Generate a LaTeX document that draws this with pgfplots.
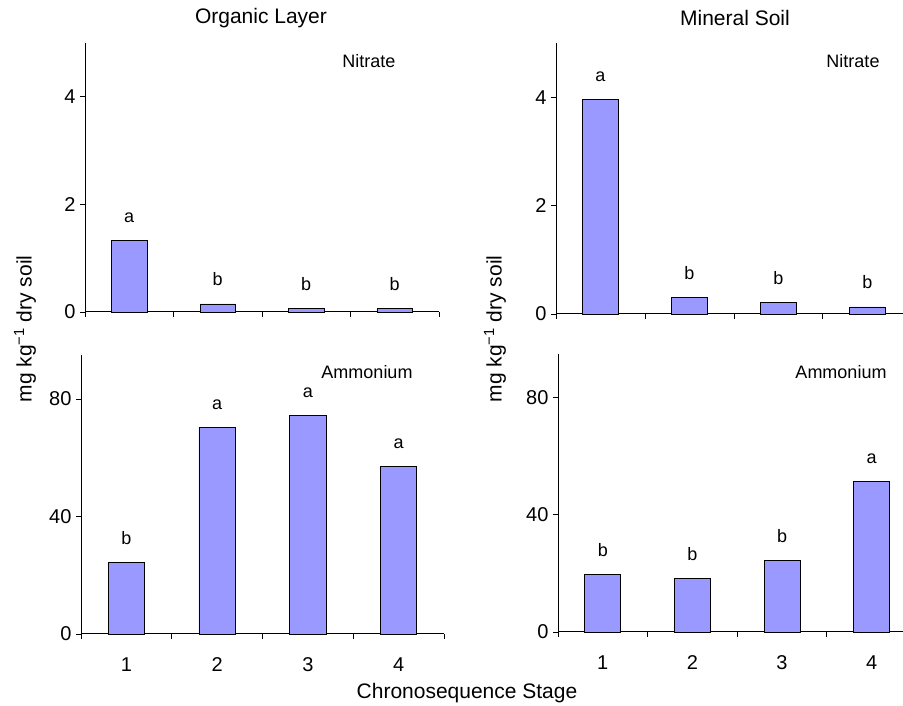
\documentclass[border=0pt]{standalone}
\usepackage{fontspec}
\setmainfont{Liberation Sans}
\usepackage{pgfplots}
\pgfplotsset{compat=1.18}
\definecolor{barblue}{HTML}{9999FF}
\pgfplotsset{
 panel/.style={
  scale only axis,
  anchor=south west,
  axis x line*=bottom, axis y line*=left,
  ybar, bar width=0.4,
  xmin=0.5, ymin=0,
  xtick={0.5,1.5,2.5,3.5,4.5}, xticklabels={},
  tick align=outside,
  major tick length=5pt,
  every tick/.style={black, line width=0.9pt},
  axis line style={line width=1pt},
  tick label style={font=\fontsize{20}{24}\selectfont},
  yticklabel style={xshift=-1pt},
  /pgf/number format/assume math mode=true,
  nodes near coords, point meta=explicit symbolic,
  nodes near coords align={anchor=base},
  every node near coord/.append style={yshift=18pt, font=\fontsize{18}{20}\selectfont},
  clip=false,
 },
 bottompanel/.style={
  extra x ticks={1,2,3,4}, extra x tick labels={1,2,3,4},
  extra x tick style={major tick length=0pt, xticklabel style={yshift=-20pt}},
 },
 bars/.style={fill=barblue, draw=black, line width=0.8pt},
}
\begin{document}
\begin{tikzpicture}
\path[use as bounding box] (0pt,0pt) rectangle (903pt,706pt);
% Organic layer - Nitrate
\begin{axis}[panel, at={(85pt,394pt)}, width=354pt, height=269pt,
  xmax=4.5, ymax=5, ytick={0,2,4}]
\addplot[bars] coordinates {(1,1.33) [a] (2,0.15) [b] (3,0.06) [b] (4,0.06) [b]};
\end{axis}
% Mineral soil - Nitrate
\begin{axis}[panel, at={(556pt,392pt)}, width=347pt, height=271pt,
  xmax=4.4, ymax=5, ytick={0,2,4}]
\addplot[bars] coordinates {(1,3.96) [a] (2,0.30) [b] (3,0.22) [b] (4,0.13) [b]};
\end{axis}
% Organic layer - Ammonium
\begin{axis}[panel, bottompanel, at={(81pt,72pt)}, width=363pt, height=279pt,
  xmax=4.5, ymax=95, ytick={0,40,80}]
\addplot[bars] coordinates {(1,24.5) [b] (2,70.4) [a] (3,74.5) [a] (4,57.1) [a]};
\end{axis}
% Mineral soil - Ammonium
\begin{axis}[panel, bottompanel, at={(558pt,74pt)}, width=345pt, height=278pt,
  xmax=4.35, ymax=95, ytick={0,40,80}]
\addplot[bars] coordinates {(1,19.8) [b] (2,18.4) [b] (3,24.6) [b] (4,51.5) [a]};
\end{axis}
\begin{scope}[every node/.style={font=\fontsize{21}{24}\selectfont}]
\node at (261pt,688pt) {Organic Layer};
\node at (735pt,688pt) {Mineral Soil};
\node at (467pt,13pt) {Chronosequence Stage};
\node[rotate=90] at (25pt,377pt) {mg kg\textsuperscript{−1} dry soil};
\node[rotate=90] at (495pt,377pt) {mg kg\textsuperscript{−1} dry soil};
\end{scope}
\begin{scope}[every node/.style={font=\fontsize{18}{20}\selectfont}]
\node at (369pt,645pt) {Nitrate};
\node at (853pt,645pt) {Nitrate};
\node at (367pt,334pt) {Ammonium};
\node at (841pt,334pt) {Ammonium};
\end{scope}
\end{tikzpicture}
\end{document}
